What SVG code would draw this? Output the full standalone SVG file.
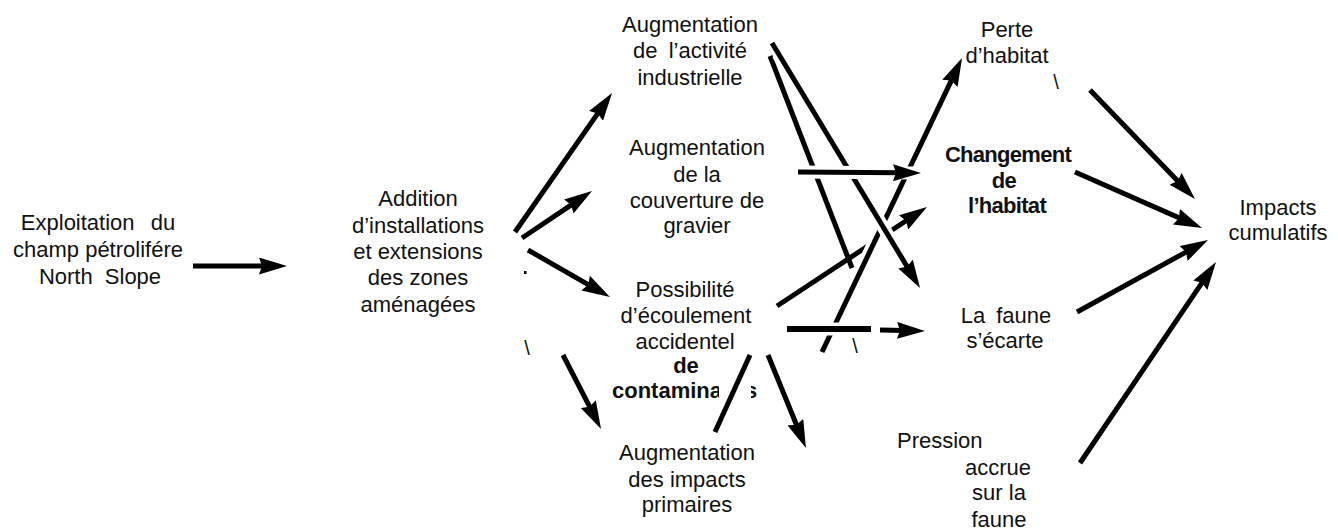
<svg xmlns="http://www.w3.org/2000/svg" width="1338" height="531" viewBox="0 0 1338 531">
<style>
text{font-family:"Liberation Sans",Arial,sans-serif;font-size:22px;fill:#111;text-anchor:middle}
.b{font-weight:bold;letter-spacing:-0.7px}
.l{text-anchor:start}
.ln{stroke:#000;stroke-width:5;fill:none;stroke-linecap:butt}
.ar{marker-end:url(#ah)}
.halo{stroke:#fff;stroke-width:13;fill:none}
.bs{font-size:20px}
</style>
<defs>
<marker id="ah" markerUnits="userSpaceOnUse" markerWidth="28" markerHeight="17" refX="8" refY="8.5" orient="auto">
<path d="M0,0 L28,8.5 L0,17 L3,8.5 Z" fill="#000"/>
</marker>
<clipPath id="cA"><rect x="600" y="370" width="119" height="40"/></clipPath>
<clipPath id="cS"><rect x="751" y="370" width="6" height="40"/></clipPath>
</defs>
<rect width="1338" height="531" fill="#fff"/>

<g id="connectors">
<line class="ln ar" x1="193" y1="266" x2="267" y2="266"/>
<line class="ln ar" x1="515" y1="232" x2="600.6" y2="109.4"/>
<line class="ln ar" x1="522" y1="238" x2="575.4" y2="202.1"/>
<line class="ln ar" x1="528" y1="250" x2="592.6" y2="287.1"/>
<line class="ln ar" x1="563" y1="355" x2="591.9" y2="411.2"/>
<line class="ln" x1="770" y1="56" x2="852" y2="268"/>
<line class="ln ar" x1="777" y1="306" x2="910.3" y2="218"/>
<line class="ln" x1="750" y1="355" x2="715" y2="432"/>
<line class="ln ar" x1="768" y1="355" x2="798.4" y2="429.5"/>
<line class="halo" x1="822" y1="352" x2="953.4" y2="76.1"/>
<line class="ln ar" x1="822" y1="352" x2="953.4" y2="76.1"/>
<line class="halo" x1="778" y1="54" x2="909.7" y2="270.9"/>
<line class="ln ar" x1="772" y1="43" x2="909.7" y2="270.9"/>
<line class="halo" x1="798" y1="172" x2="918" y2="173"/>
<line class="ln ar" x1="798" y1="172" x2="901" y2="172.8"/>
<line class="halo" x1="787" y1="329" x2="871" y2="329"/>
<line class="ln" stroke-width="6" x1="787" y1="329" x2="871" y2="329" style="stroke-width:6"/>
<line class="ln ar" x1="880" y1="330" x2="905" y2="330.6"/>
<line class="ln ar" x1="1090" y1="90" x2="1181.1" y2="184.6"/>
<line class="ln ar" x1="1075" y1="172" x2="1183.7" y2="219.9"/>
<line class="ln ar" x1="1077" y1="312" x2="1190.5" y2="249.6"/>
<line class="ln ar" x1="1080" y1="463" x2="1204.8" y2="278.6"/>
<rect x="524" y="271" width="2.5" height="3" fill="#000"/>
<text class="bs" x="527" y="355">\</text>
<text class="bs" x="1056" y="89">\</text>
<text class="bs" x="855" y="353">\</text>
</g>

<g id="n-exploitation">
<text x="98" y="230" word-spacing="10">Exploitation du</text>
<text x="98" y="257">champ pétrolifére</text>
<text x="100" y="284" word-spacing="6">North Slope</text>
</g>

<g id="n-addition">
<text x="418" y="206">Addition</text>
<text x="418" y="233">d’installations</text>
<text x="418" y="259">et extensions</text>
<text x="418" y="285">des zones</text>
<text x="418" y="312">aménagées</text>
</g>

<g id="n-activite">
<text x="690" y="32">Augmentation</text>
<text x="690" y="58" word-spacing="5">de l’activité</text>
<text x="690" y="85">industrielle</text>
</g>

<g id="n-gravier">
<text x="697" y="155">Augmentation</text>
<text x="697" y="182">de la</text>
<text x="697" y="208">couverture de</text>
<text x="697" y="233">gravier</text>
</g>

<g id="n-ecoulement">
<text x="685" y="297">Possibilité</text>
<text x="686" y="323">d’écoulement</text>
<text x="685" y="349">accidentel</text>
<text class="b" x="686" y="373" style="letter-spacing:0">de</text>
<text class="b l" x="612" y="398" style="letter-spacing:0" clip-path="url(#cA)">contamina</text>
<text class="b l" x="745" y="398" style="letter-spacing:0" clip-path="url(#cS)">s</text>
</g>

<g id="n-primaires">
<text x="687" y="460">Augmentation</text>
<text x="687" y="487">des impacts</text>
<text x="687" y="512">primaires</text>
</g>

<g id="n-perte">
<text x="1007" y="37">Perte</text>
<text x="1007" y="63">d’habitat</text>
</g>

<g id="n-changement">
<text class="b" x="1008" y="162">Changement</text>
<text class="b" x="1004" y="188">de</text>
<text class="b" x="1007" y="213">l’habitat</text>
</g>

<g id="n-faune">
<text x="1006" y="323" word-spacing="5">La faune</text>
<text x="1005" y="348">s’écarte</text>
</g>

<g id="n-pression">
<text class="l" x="897" y="448">Pression</text>
<text x="998" y="475">accrue</text>
<text x="999" y="500">sur la</text>
<text x="999" y="527">faune</text>
</g>

<g id="n-impacts">
<text x="1278" y="215">Impacts</text>
<text x="1278" y="240">cumulatifs</text>
</g>
</svg>
